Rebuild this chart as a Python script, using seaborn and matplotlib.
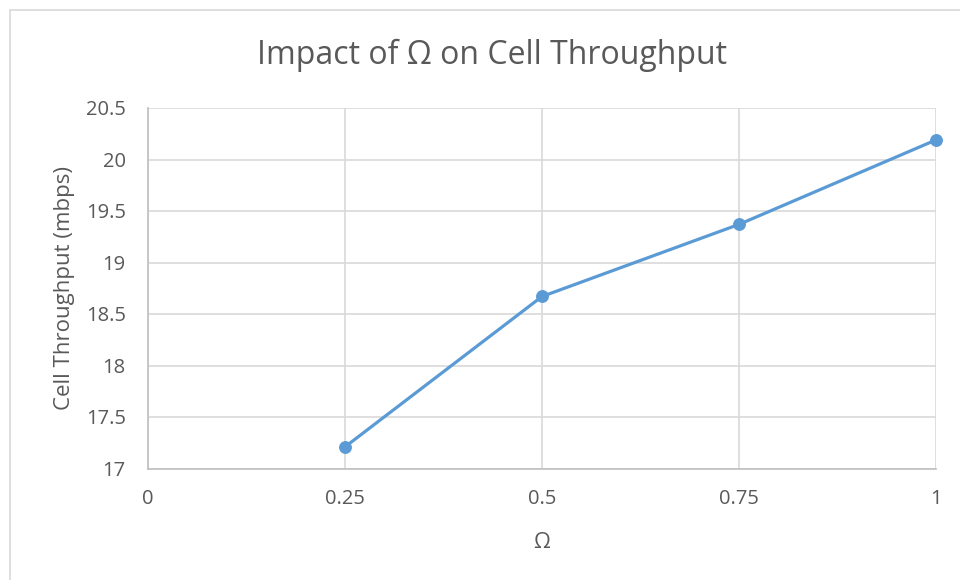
import matplotlib
matplotlib.use("Agg")
import matplotlib.pyplot as plt
import pandas as pd
import seaborn as sns

# values
omega = [0.25, 0.5, 0.75, 1.0]
throughput = [17.21, 18.67, 19.37, 20.19]
x_ticks = [0, 0.25, 0.5, 0.75, 1]
x_tick_labels = ["0", "0.25", "0.5", "0.75", "1"]
y_ticks = [17, 17.5, 18, 18.5, 19, 19.5, 20, 20.5]
y_tick_labels = ["17", "17.5", "18", "18.5", "19", "19.5", "20", "20.5"]

df = pd.DataFrame({"omega": omega, "throughput": throughput})

sns.set_style("white")
plt.rcParams["font.family"] = ["Open Sans", "DejaVu Sans"]

text_grey = "#595959"
grid_grey = "#d9d9d9"
line_blue = "#5b9bd5"

fig = plt.figure(figsize=(9.6, 5.8), dpi=100)
ax = fig.add_axes([148 / 960, 1 - 468.5 / 580, (936 - 148) / 960, (468.5 - 108) / 580])

sns.lineplot(
    data=df, x="omega", y="throughput", ax=ax,
    color=line_blue, linewidth=2.3, marker="o", markersize=8.5,
    markeredgecolor=line_blue, clip_on=False, zorder=3,
)

ax.set_xlim(0, 1)
ax.set_ylim(17, 20.5)
ax.set_xticks(x_ticks)
ax.set_xticklabels(x_tick_labels)
ax.set_yticks(y_ticks)
ax.set_yticklabels(y_tick_labels)
ax.grid(True, color=grid_grey, linewidth=1.2)
ax.set_axisbelow(True)

for side in ["top", "right"]:
    ax.spines[side].set_visible(False)
for side in ["left", "bottom"]:
    ax.spines[side].set_color("#bfbfbf")
    ax.spines[side].set_linewidth(1.2)

ax.tick_params(axis="both", length=0, labelsize=14.5, labelcolor=text_grey)
ax.tick_params(axis="x", pad=15)
ax.tick_params(axis="y", pad=16)

ax.set_xlabel("Ω", fontsize=15.5, color=text_grey, labelpad=16)
ax.set_ylabel("Cell Throughput (mbps)", fontsize=16, color=text_grey, labelpad=8)

fig.text(0.512, 0.905, "Impact of Ω on Cell Throughput", ha="center", va="center",
         fontsize=23, color=text_grey)

# light chart border, as in the spreadsheet export
border = plt.Rectangle((10 / 960, -0.1), 1.2, 1 - 10 / 580 + 0.1, transform=fig.transFigure,
                       fill=False, edgecolor="#d9d9d9", linewidth=1.2)
fig.add_artist(border)

fig.savefig("out.png", dpi=100, facecolor="white")
